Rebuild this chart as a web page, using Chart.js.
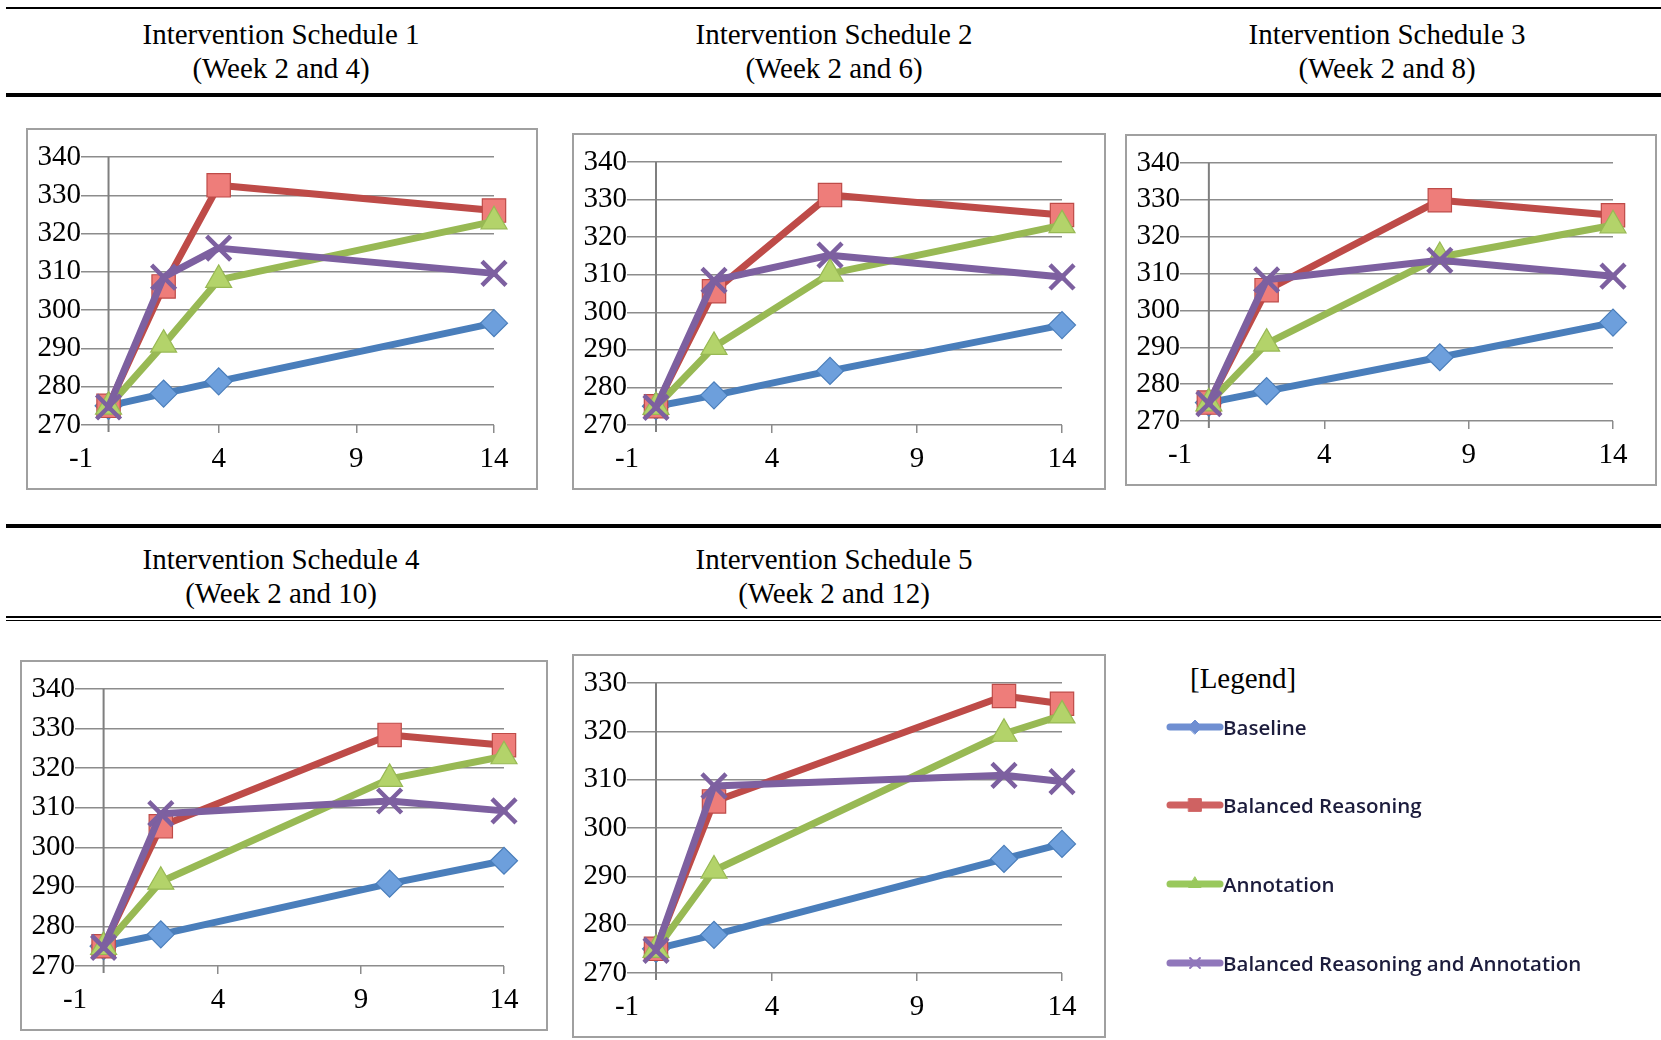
<!DOCTYPE html>
<html>
<head>
<meta charset="utf-8">
<script src="https://cdn.jsdelivr.net/npm/chart.js@4.4.1/dist/chart.umd.min.js"></script>
<style>
  body { margin: 0; background: #fff; }
  #page { position: relative; width: 1661px; height: 1040px; overflow: hidden; font-family: "Liberation Serif", "Times New Roman", serif; }
  .rule { position: absolute; left: 6px; right: 0; background: #000; }
  .title { position: absolute; width: 500px; text-align: center; font-size: 29px; line-height: 34px; color: #000; }
  .box { position: absolute; border: 2px solid #a0a0a0; box-sizing: border-box; background: #fff; }
  .box canvas { display: block; }
  .legendHead { position: absolute; left: 1190px; top: 661px; font-size: 29px; line-height: 34px; }
  .legItem { position: absolute; left: 1165px; height: 26px; }
  .legItem canvas { position: absolute; left: 0; top: 0; }
  .legItem span { position: absolute; left: 58px; top: -1px; white-space: nowrap; font-family: "Open Sans", sans-serif; font-weight: 600; font-size: 20.5px; line-height: 26px; color: #1c1c3c; }
</style>
</head>
<body>
<div id="page">
  <div class="rule" style="top:7px;height:2px"></div>
  <div class="rule" style="top:93px;height:3.5px"></div>
  <div class="rule" style="top:524px;height:4px"></div>
  <div class="rule" style="top:616px;height:2px"></div>
  <div class="rule" style="top:619.5px;height:1.5px"></div>
  <div class="legendHead">[Legend]</div>
</div>
<script>
const titles = ["Intervention Schedule 1", "Intervention Schedule 2", "Intervention Schedule 3", "Intervention Schedule 4", "Intervention Schedule 5"];
const subtitles = ["(Week 2 and 4)", "(Week 2 and 6)", "(Week 2 and 8)", "(Week 2 and 10)", "(Week 2 and 12)"];
const seriesNames = ["Baseline", "Balanced Reasoning", "Annotation", "Balanced Reasoning and Annotation"];

// week of each measurement, per schedule
const weeks = [[0, 2, 4, 14], [0, 2, 6, 14], [0, 2, 8, 14], [0, 2, 10, 14], [0, 2, 12, 14]];

const baseline = [
    [275, 278.2, 281.4, 296.6],
    [275, 277.9, 284.4, 296.6],
    [275, 278.1, 287.3, 296.7],
    [275, 278.0, 290.8, 296.6],
    [275, 277.9, 293.6, 296.7],
];
const balanced = [
    [275, 306.2, 332.6, 326.0],
    [275, 305.6, 331.2, 325.9],
    [275, 305.5, 329.9, 325.8],
    [275, 305.3, 328.4, 325.8],
    [275, 305.5, 327.3, 325.7],
];
const annotation = [
    [274.8, 291.0, 307.9, 323.2],
    [274.8, 290.8, 310.3, 323.2],
    [274.8, 291.0, 314.5, 323.1],
    [274.8, 291.3, 317.3, 323.0],
    [274.8, 291.2, 319.5, 323.3],
];
const balancedAnnotation = [
    [274.7, 308.6, 316.2, 309.6],
    [274.7, 308.5, 315.2, 309.4],
    [274.7, 308.3, 313.6, 309.3],
    [274.7, 308.5, 311.7, 309.2],
    [274.7, 308.7, 310.9, 309.6],
];

const xTicks = [-1, 4, 9, 14];
const yTicksA = [270, 280, 290, 300, 310, 320, 330, 340];
const yTicksB = [270, 280, 290, 300, 310, 320, 330];
const yTicks = [yTicksA, yTicksA, yTicksA, yTicksA, yTicksB];

// styling
const lineColors = ["#4a7ebb", "#be4b48", "#98b954", "#7d60a0"];
const fillColors = ["#6d9fdc", "#ee7d7a", "#b3d36a", "#7d60a0"];
const pointStyles = ["rectRot", "rect", "triangle", "crossRot"];
const pointSizes = [13.5, 16.5, 15, 17];
const legendColors = ["#6f8fd2", "#cf6262", "#99c85c", "#9077bb"];
const gridColor = "#8c8c8c";
const tickFont = { family: "Liberation Serif", size: 29 };

const boxes = [
    { left: 26, top: 128, w: 512, h: 362 },
    { left: 572, top: 133, w: 534, h: 357 },
    { left: 1125, top: 134, w: 532, h: 352 },
    { left: 20, top: 660, w: 528, h: 371 },
    { left: 572, top: 654, w: 534, h: 384 },
];
const titleCenters = [281, 834, 1387, 281, 834];
const titleTops = [17, 17, 17, 542, 542];

const page = document.getElementById("page");

// y axis drawn where x = 0
const zeroAxis = {
    id: "zeroAxis",
    beforeDatasetsDraw(chart) {
        const { ctx, chartArea, scales } = chart;
        const x = scales.x.getPixelForValue(0);
        ctx.save();
        ctx.strokeStyle = "#7f7f7f";
        ctx.lineWidth = 2;
        ctx.beginPath();
        ctx.moveTo(x, chartArea.top);
        ctx.lineTo(x, chartArea.bottom + 7);
        ctx.stroke();
        ctx.restore();
    },
};

function makeChart(i) {
    const t = document.createElement("div");
    t.className = "title";
    t.style.left = titleCenters[i] - 250 + "px";
    t.style.top = titleTops[i] + "px";
    t.innerHTML = titles[i] + "<br>" + subtitles[i];
    page.appendChild(t);

    const b = boxes[i];
    const box = document.createElement("div");
    box.className = "box";
    box.style.left = b.left + "px";
    box.style.top = b.top + "px";
    box.style.width = b.w + "px";
    box.style.height = b.h + "px";
    const cv = document.createElement("canvas");
    cv.width = b.w - 4;
    cv.height = b.h - 4;
    cv.style.width = b.w - 4 + "px";
    cv.style.height = b.h - 4 + "px";
    box.appendChild(cv);
    page.appendChild(box);

    const series = [baseline[i], balanced[i], annotation[i], balancedAnnotation[i]];
    const datasets = series.map(function (vals, s) {
        return {
            label: seriesNames[s],
            data: vals.map((v, k) => ({ x: weeks[i][k], y: v })),
            borderColor: lineColors[s],
            borderWidth: 7,
            borderJoinStyle: "round",
            borderCapStyle: "round",
            pointStyle: pointStyles[s],
            pointRadius: pointSizes[s],
            pointBackgroundColor: fillColors[s],
            pointBorderColor: lineColors[s],
            pointBorderWidth: s === 3 ? 4.5 : 1.2,
            tension: 0,
            clip: false,
            order: 3 - s,
        };
    });

    const yt = yTicks[i];
    new Chart(cv.getContext("2d"), {
        type: "line",
        data: { datasets: datasets },
        plugins: [zeroAxis],
        options: {
            responsive: false,
            animation: false,
            events: [],
            layout: { padding: { top: 27, right: 42, left: 0, bottom: 0 } },
            plugins: { legend: { display: false }, tooltip: { enabled: false } },
            scales: {
                x: {
                    type: "linear",
                    min: xTicks[0],
                    max: xTicks[xTicks.length - 1],
                    afterBuildTicks: (s) => { s.ticks = xTicks.map((v) => ({ value: v })); },
                    afterFit: (s) => { s.height = 63; },
                    grid: {
                        drawOnChartArea: false,
                        drawTicks: true,
                        tickLength: 8,
                        lineWidth: 1.5,
                        color: (c) => (c.tick && c.tick.value === xTicks[0] ? "rgba(0,0,0,0)" : gridColor),
                    },
                    border: { display: false },
                    ticks: { font: tickFont, color: "#000", padding: 9, maxRotation: 0, autoSkip: false },
                },
                y: {
                    min: yt[0],
                    max: yt[yt.length - 1],
                    afterBuildTicks: (s) => { s.ticks = yt.map((v) => ({ value: v })); },
                    afterFit: (s) => { s.width = 53; },
                    grid: { color: gridColor, lineWidth: 1.5, drawTicks: false },
                    border: { display: false },
                    ticks: { font: tickFont, color: "#000", padding: 0, autoSkip: false },
                },
            },
        },
    });
}

for (let i = 0; i < titles.length; i++) makeChart(i);

// legend
const legendY = [727, 805, 884, 963];
seriesNames.forEach(function (name, s) {
    const item = document.createElement("div");
    item.className = "legItem";
    item.style.top = legendY[s] - 12 + "px";
    const cv = document.createElement("canvas");
    cv.width = 60;
    cv.height = 24;
    const ctx = cv.getContext("2d");
    ctx.strokeStyle = legendColors[s];
    ctx.lineWidth = 7;
    ctx.lineCap = "round";
    ctx.beginPath();
    ctx.moveTo(5, 12);
    ctx.lineTo(55, 12);
    ctx.stroke();
    if (Chart.helpers && Chart.helpers.drawPoint) {
        ctx.fillStyle = legendColors[s];
        ctx.strokeStyle = legendColors[s];
        ctx.lineWidth = s === 3 ? 2 : 1;
        Chart.helpers.drawPoint(ctx, { pointStyle: pointStyles[s], radius: s === 1 ? 9 : 7, borderWidth: ctx.lineWidth }, 30, 12);
    }
    item.appendChild(cv);
    const sp = document.createElement("span");
    sp.textContent = name;
    item.appendChild(sp);
    page.appendChild(item);
});
</script>
</body>
</html>
